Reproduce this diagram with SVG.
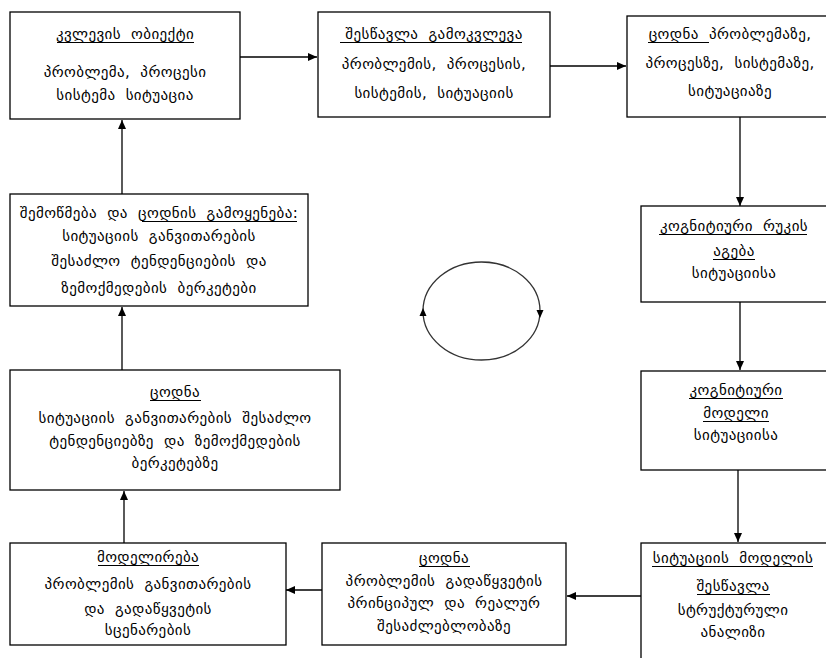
<svg xmlns="http://www.w3.org/2000/svg" width="826" height="658" viewBox="0 0 826 658">
<style>
.box{fill:#fff;stroke:#000;stroke-width:1.3}
.t{font-family:"DejaVu Sans",sans-serif;font-size:15px;letter-spacing:0.4px;word-spacing:5px;fill:#000;text-anchor:middle}
.ul{stroke:#000;stroke-width:1}
.c{stroke:#000;stroke-width:1.3;fill:none}
</style>
<defs>
<marker id="ah" markerWidth="9" markerHeight="8" refX="9" refY="4" orient="auto" markerUnits="userSpaceOnUse">
<path d="M0,0 L9,4 L0,8 z" fill="#000"/>
</marker>
</defs>
<rect width="826" height="658" fill="#fff"/>
<g id="connectors">
<line class="c" x1="122" y1="194" x2="122" y2="120" marker-end="url(#ah)"/>
<line class="c" x1="122" y1="370" x2="122" y2="307" marker-end="url(#ah)"/>
<line class="c" x1="124" y1="543" x2="124" y2="491" marker-end="url(#ah)"/>
<line class="c" x1="240" y1="57" x2="317" y2="57" marker-end="url(#ah)"/>
<line class="c" x1="550" y1="66" x2="626" y2="66" marker-end="url(#ah)"/>
<line class="c" x1="740" y1="117" x2="740" y2="206" marker-end="url(#ah)"/>
<line class="c" x1="740" y1="302" x2="740" y2="370" marker-end="url(#ah)"/>
<line class="c" x1="738" y1="470" x2="738" y2="542" marker-end="url(#ah)"/>
<line class="c" x1="641" y1="596" x2="567" y2="596" marker-end="url(#ah)"/>
<line class="c" x1="322" y1="590" x2="286" y2="590" marker-end="url(#ah)"/>
</g>
<g id="cycle">
<ellipse cx="481.5" cy="311" rx="58.5" ry="49" fill="none" stroke="#333" stroke-width="1.3"/>
<path d="M423,308 L426.5,316 L419.5,316 z" fill="#000"/>
<path d="M540,318 L543.5,310 L536.5,310 z" fill="#000"/>
</g>
<g id="n1">
<rect class="box" x="10" y="12" width="230" height="107"/>
<text class="t" x="125" y="39">კვლევის ობიექტი</text>
<line class="ul" x1="57" y1="42.5" x2="194" y2="42.5"/>
<text class="t" x="125" y="77">პრობლემა, პროცესი</text>
<text class="t" x="125" y="100">სისტემა სიტუაცია</text>
</g>
<g id="n2">
<rect class="box" x="318" y="12" width="232" height="105"/>
<text class="t" x="434" y="39">შესწავლა გამოკვლევა</text>
<line class="ul" x1="340" y1="42.5" x2="522" y2="42.5"/>
<text class="t" x="434" y="69">პრობლემის, პროცესის,</text>
<text class="t" x="434" y="98">სისტემის, სიტუაციის</text>
</g>
<g id="n3">
<rect class="box" x="627" y="16" width="210" height="101"/>
<text class="t" x="730" y="39">ცოდნა პრობლემაზე,</text>
<line class="ul" x1="648" y1="42.5" x2="709" y2="42.5"/>
<text class="t" x="730" y="68">პროცესზე, სისტემაზე,</text>
<text class="t" x="730" y="96">სიტუაციაზე</text>
</g>
<g id="n4">
<rect class="box" x="10" y="194" width="298" height="112"/>
<text class="t" x="159" y="218">შემოწმება და ცოდნის გამოყენება:</text>
<line class="ul" x1="142" y1="221.5" x2="297" y2="221.5"/>
<text class="t" x="159" y="241">სიტუაციის განვითარების</text>
<text class="t" x="159" y="266">შესაძლო ტენდენციების და</text>
<text class="t" x="159" y="293">ზემოქმედების  ბერკეტები</text>
</g>
<g id="n5">
<rect class="box" x="641" y="206" width="196" height="96"/>
<text class="t" x="734" y="231">კოგნიტიური რუკის</text>
<line class="ul" x1="659" y1="234.5" x2="807" y2="234.5"/>
<text class="t" x="734" y="256">აგება</text>
<line class="ul" x1="713" y1="259.5" x2="755" y2="259.5"/>
<text class="t" x="734" y="278">სიტუაციისა</text>
</g>
<g id="n6">
<rect class="box" x="641" y="371" width="196" height="99"/>
<text class="t" x="736" y="395">კოგნიტიური</text>
<line class="ul" x1="689" y1="398.5" x2="783" y2="398.5"/>
<text class="t" x="736" y="418">მოდელი</text>
<line class="ul" x1="703" y1="421.5" x2="769" y2="421.5"/>
<text class="t" x="736" y="440">სიტუაციისა</text>
</g>
<g id="n7">
<rect class="box" x="10" y="370" width="330" height="120"/>
<text class="t" x="175" y="397">ცოდნა</text>
<line class="ul" x1="150" y1="400.5" x2="201" y2="400.5"/>
<text class="t" x="175" y="423">სიტუაციის განვითარების შესაძლო</text>
<text class="t" x="175" y="446">ტენდენციებზე და ზემოქმედების</text>
<text class="t" x="175" y="468">ბერკეტებზე</text>
</g>
<g id="n8">
<rect class="box" x="10" y="543" width="276" height="102"/>
<text class="t" x="148" y="562">მოდელირება</text>
<line class="ul" x1="98" y1="565.5" x2="199" y2="565.5"/>
<text class="t" x="148" y="589">პრობლემის განვითარების</text>
<text class="t" x="148" y="614">და გადაწყვეტის</text>
<text class="t" x="148" y="635">სცენარების</text>
</g>
<g id="n9">
<rect class="box" x="322" y="543" width="244" height="102"/>
<text class="t" x="444" y="563">ცოდნა</text>
<line class="ul" x1="419" y1="566.5" x2="470" y2="566.5"/>
<text class="t" x="444" y="586">პრობლემის გადაწყვეტის</text>
<text class="t" x="444" y="608">პრინციპულ და რეალურ</text>
<text class="t" x="444" y="631">შესაძლებლობაზე</text>
</g>
<g id="n10">
<rect class="box" x="641" y="543" width="196" height="130"/>
<text class="t" x="733" y="563">სიტუაციის მოდელის</text>
<line class="ul" x1="652" y1="566.5" x2="813" y2="566.5"/>
<text class="t" x="733" y="591">შესწავლა</text>
<line class="ul" x1="697" y1="594.5" x2="770" y2="594.5"/>
<text class="t" x="733" y="615">სტრუქტურული</text>
<text class="t" x="733" y="637">ანალიზი</text>
</g>
</svg>
